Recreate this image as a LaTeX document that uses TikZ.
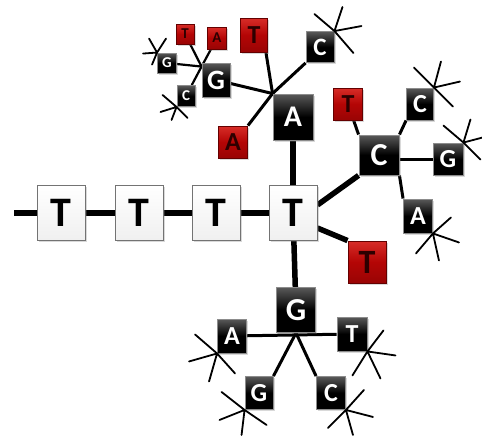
\documentclass[tikz,border=0pt]{standalone}
\usepackage{fontspec}
\setmainfont{Carlito}
\usetikzlibrary{shadows}
\pgfdeclarelayer{bg}
\pgfsetlayers{bg,main}
\definecolor{rtop}{RGB}{215,45,40}
\definecolor{rbot}{RGB}{180,5,5}
\definecolor{rrim}{RGB}{100,0,0}
\definecolor{rtext}{RGB}{45,0,0}
\tikzset{
  base/.style={rectangle, inner sep=0pt,
    drop shadow={shadow xshift=1.8pt, shadow yshift=-1.8pt, opacity=0.3}},
  wbox/.style={base, draw=black!55, line width=0.9pt, top color=white,
    bottom color=black!6, text=black, minimum width=48pt, minimum height=55pt,
    font=\fontsize{42}{42}\selectfont\bfseries},
  bbox/.style={base, draw=black!45, line width=0.9pt, top color=black!65,
    bottom color=black, middle color=black, text=white},
  rbox/.style={base, draw=rrim, line width=0.9pt, top color=rtop,
    bottom color=rbot!85!black, middle color=rbot, text=rtext},
  wh/.style 2 args={minimum width=#1pt, minimum height=#2pt},
  fs/.style={font=\fontsize{#1}{#1}\selectfont\bfseries},
  thickline/.style={line width=5.5pt, black},
  thinline/.style={line width=3pt, black},
  ast/.style={line width=1.8pt, black, line cap=round},
}
\begin{document}
\begin{tikzpicture}[x=1pt,y=-1pt]
\useasboundingbox (0,0) rectangle (482,437);
% main chain
\node[wbox] (T1) at (61,213) {T};
\node[wbox] (T2) at (139,213) {T};
\node[wbox] (T3) at (216,213) {T};
\node[wbox] (T4) at (293,213) {T};
\coordinate (start) at (14,213);
% upper branch
\node[bbox, wh={40}{46}, fs=30] (A) at (293,117) {A};
\node[bbox, wh={28}{34}, fs=28] (Gb) at (216,80) {G};
\node[rbox, wh={27}{34}, fs=26] (Tt) at (254,35) {T};
\node[bbox, wh={28}{31}, fs=25] (Ct) at (320,47) {C};
\node[rbox, wh={29}{32}, fs=26] (Ar) at (233,142) {A};
\node[rbox, wh={18}{20}, fs=15] (ts) at (185,34) {T};
\node[rbox, wh={19}{22}, fs=15] (as) at (217,38) {A};
\node[bbox, wh={19}{20}, fs=15] (gs) at (167,63) {G};
\node[bbox, wh={18}{21}, fs=15] (cs) at (186,96) {C};
% right branch
\node[bbox, wh={40}{40}, fs=32] (Cb) at (379,155) {C};
\node[rbox, wh={29}{32}, fs=26] (Tc) at (348,104) {T};
\node[bbox, wh={27}{32}, fs=26] (Cr) at (420,104) {C};
\node[bbox, wh={30}{32}, fs=26] (Gr) at (448,159) {G};
\node[bbox, wh={29}{34}, fs=26] (Ar2) at (418,216) {A};
\node[rbox, wh={38}{42}, fs=34] (Tr) at (367,262) {T};
% lower branch
\node[bbox, wh={39}{45}, fs=32] (Gl) at (296,310) {G};
\node[bbox, wh={29}{34}, fs=26] (Ab) at (232,336) {A};
\node[bbox, wh={30}{34}, fs=26] (Tb) at (352,334) {T};
\node[bbox, wh={28}{33}, fs=26] (Gs) at (259,393) {G};
\node[bbox, wh={29}{33}, fs=26] (Cl) at (331,393) {C};

\begin{pgfonlayer}{bg}
  \draw[thickline] (start) -- (T4);
  \draw[thickline] (T4) -- (A);
  \draw[thickline] (T4) -- (Gl);
  \draw[thickline] ([yshift=8pt]T4.east) -- (Cb.south west);
  \draw[thickline] ([yshift=-15pt]T4.east) -- (Tr.north west);
  % A junction
  \draw[thinline] (A.north west) -- (Gb);
  \draw[thinline] (A.north west) -- ([xshift=-2pt]Tt.south east);
  \draw[thinline] (A.north west) -- (Ct.south west);
  \draw[thinline] (A.north west) -- (Ar.north east);
  % G junction
  \draw[line width=2.2pt] ([yshift=-4pt]Gb.north west) -- (ts);
  \draw[line width=2.2pt] ([yshift=-4pt]Gb.north west) -- (as);
  \draw[line width=2.2pt] ([yshift=-4pt]Gb.north west) -- (gs);
  \draw[line width=2.2pt] ([yshift=-4pt]Gb.north west) -- (cs);
  % C junction
  \draw[thinline] (Cb.north west) -- (Tc);
  \draw[thinline] (Cb.north east) -- (Cr.south west);
  \draw[thinline] (Gr.west -| Cb.east) -- (Gr.west);
  \draw[thinline] (Cb.south east) -- (Ar2.north west);
  % G lower junction
  \draw[thinline] (Ab) -- (Tb);
  \draw[thinline] (Gl.south) -- (Gs.north east);
  \draw[thinline] (Gl.south) -- (Cl.north west);
\end{pgfonlayer}

% asterisks
\draw[ast] (Ct.north east) -- ++(-20,-17) (Ct.north east) -- ++(8,-24)
  (Ct.north east) -- ++(27,-5) (Ct.north east) -- ++(19,22);
\draw[ast] (gs.north west) -- ++(-14,1) (gs.north west) -- ++(-8,-14)
  (gs.north west) -- ++(9,-14) (gs.north west) -- ++(-5,12);
\draw[ast] (cs.south west) -- ++(-14,-12) (cs.south west) -- ++(-16,5)
  (cs.south west) -- ++(-5,13) (cs.south west) -- ++(11,11);
\draw[ast] (Cr.north east) -- ++(-20,-20) (Cr.north east) -- ++(7,-26)
  (Cr.north east) -- ++(26,-6) (Cr.north east) -- ++(19,19);
\draw[ast] (Gr.north east) -- ++(-20,-17) (Gr.north east) -- ++(7,-23)
  (Gr.north east) -- ++(19,-5) (Gr.north east) -- ++(17,17);
\draw[ast] (Ar2.south east) -- ++(18,-16) (Ar2.south east) -- ++(26,9)
  (Ar2.south east) -- ++(6,27) (Ar2.south east) -- ++(-17,20);
\draw[ast] (Ab.south west) -- ++(-22,-19) (Ab.south west) -- ++(-28,8)
  (Ab.south west) -- ++(-8,28) (Ab.south west) -- ++(18,20);
\draw[ast] (Gs.south west) -- ++(-23,-18) (Gs.south west) -- ++(-25,10)
  (Gs.south west) -- ++(-3,25) (Gs.south west) -- ++(22,15);
\draw[ast] (Tb.south east) -- ++(16,-21) (Tb.south east) -- ++(28,4)
  (Tb.south east) -- ++(13,27) (Tb.south east) -- ++(-15,24);
\draw[ast] (Cl.south east) -- ++(18,-20) (Cl.south east) -- ++(27,7)
  (Cl.south east) -- ++(7,25) (Cl.south east) -- ++(-18,18);
\end{tikzpicture}
\end{document}
